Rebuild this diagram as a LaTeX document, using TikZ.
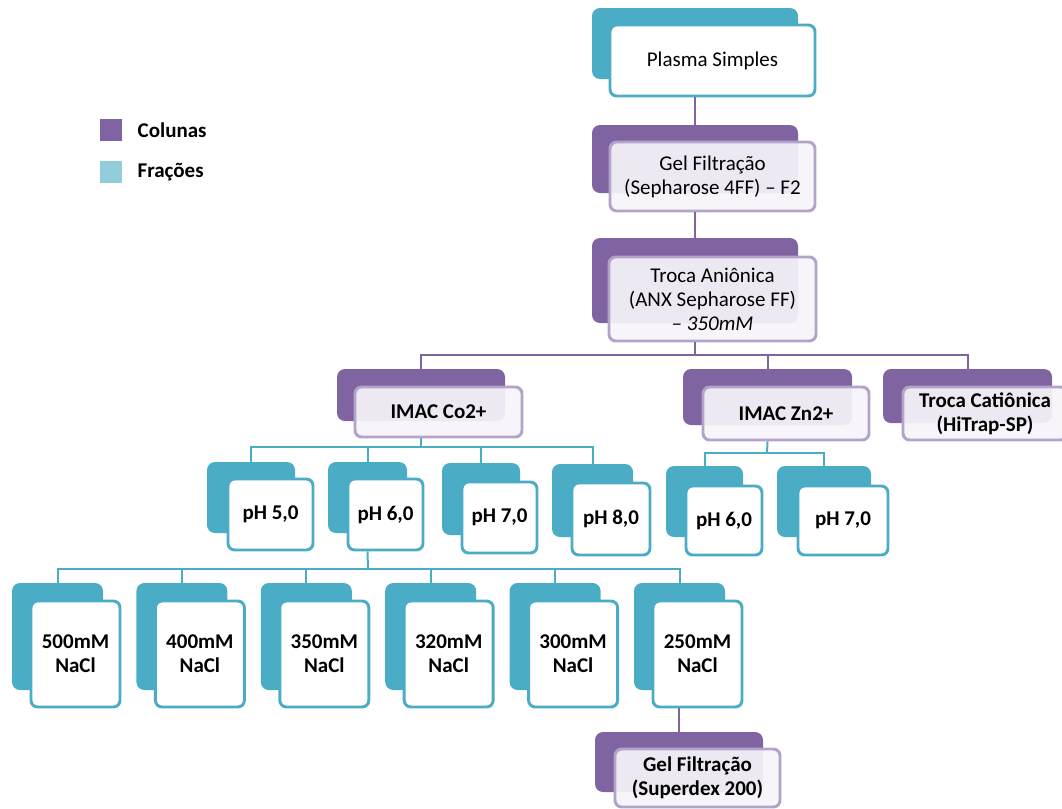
\documentclass[tikz,border=0pt]{standalone}
\usepackage{fontspec}
\setmainfont{Carlito}

\definecolor{roxo}{HTML}{8064A2}
\definecolor{turq}{HTML}{4BACC6}
\definecolor{celeste}{HTML}{92CDDC}
\definecolor{lilas}{HTML}{B3A3CB}
\definecolor{lilasclaro}{HTML}{F6F4F9}

\tikzset{
  txt/.style={font=\fontsize{15.75}{18}\selectfont},
  negrito/.style={font=\fontsize{15.75}{18}\selectfont\bfseries},
  tam/.style 2 args={minimum width={#1*0.75pt}, minimum height={#2*0.75pt}},
  colback/.style={fill=roxo, rounded corners=6pt, inner sep=0pt},
  fracback/.style={fill=turq, rounded corners=6pt, inner sep=0pt},
  colfront/.style={draw=lilas, line width=2.2pt, fill=lilasclaro, fill opacity=0.93,
    text opacity=1, rounded corners=5pt, inner sep=0pt, align=center},
  fracfront/.style={draw=turq, line width=2.2pt, fill=white, rounded corners=5pt,
    inner sep=0pt, align=center},
  pline/.style={draw=roxo, line width=1.5pt},
  tline/.style={draw=turq, line width=1.5pt},
}

\begin{document}
\begin{tikzpicture}[x=0.75pt,y=-0.75pt]
\useasboundingbox (0,0) rectangle (1062,808);
\clip (0,0) rectangle (1062,808);

% legend
\node[fill=roxo, inner sep=0pt, tam={22}{22}] (leg-col) at (111,130) {};
\node[negrito, anchor=west] (leg-col-txt) at (133,130) {Colunas};
\node[fill=celeste, inner sep=0pt, tam={22}{22}] (leg-frac) at (111,172) {};
\node[negrito, anchor=west] (leg-frac-txt) at (133,172) {Frações};

% top chain
\node[fracback, tam={206}{71}] (plasma-b) at (695,43.5) {};
\node[fracfront, txt, tam={205}{71}] (plasma) at (712.5,60.5) {Plasma Simples};

\node[colback, tam={206}{68}] (gel-b) at (695,159) {};
\draw[pline] (gel-b.north) -- (gel-b.north |- plasma.south);
\node[colfront, txt, tam={205}{69}] (gel) at (712.5,176.5) {Gel Filtração\\(Sepharose 4FF) -- F2};

\node[colback, tam={206}{85}] (anx-b) at (695,280.5) {};
\draw[pline] (anx-b.north) -- (anx-b.north |- gel.south);
\node[colfront, txt, tam={207}{84}] (anx) at (712.5,299) {Troca Aniônica\\(ANX Sepharose FF)\\\textit{-- 350mM}};

% columns after anion exchange
\coordinate (bus-anx) at (695,355);
\node[colback, tam={168}{52}] (co-b) at (421,395) {};
\node[colback, tam={169}{56}] (zn-b) at (767.5,397) {};
\node[colback, tam={169}{54}] (cat-b) at (967.5,396) {};
\draw[pline] (anx-b.north |- anx.south) -- (bus-anx);
\draw[pline] (co-b.north) |- (bus-anx);
\draw[pline] (zn-b.north) |- (bus-anx);
\draw[pline] (cat-b.north) |- (bus-anx);
\node[colfront, negrito, tam={167}{50}] (co) at (438.5,412) {IMAC Co2+};
\node[colfront, negrito, tam={166}{53}] (zn) at (786,413.5) {IMAC Zn2+};
\node[colfront, negrito, tam={164}{53}] (cat) at (985,413.5) {Troca Catiônica\\(HiTrap-SP)};

% pH fractions, IMAC Co2+
\coordinate (bus-co) at (421,447);
\node[fracback, tam={88}{71}] (co5-b) at (251,497.5) {};
\node[fracback, tam={79}{71}] (co6-b) at (367.5,497.5) {};
\node[fracback, tam={78}{72}] (co7-b) at (481,499) {};
\node[fracback, tam={81}{73}] (co8-b) at (592.5,500.5) {};
\draw[tline] (co-b.north |- co.south) -- (bus-co);
\foreach \f in {co5-b,co6-b,co7-b,co8-b}
  \draw[tline] (\f.north) |- (bus-co);
\node[fracfront, negrito, tam={85}{71}] (co5) at (270.5,514.5) {pH 5,0};
\node[fracfront, negrito, tam={75}{71}] (co6) at (385.5,514.5) {pH 6,0};
\node[fracfront, negrito, tam={75}{71}] (co7) at (499.5,517.5) {pH 7,0};
\node[fracfront, negrito, tam={78}{72}] (co8) at (611,519) {pH 8,0};

% pH fractions, IMAC Zn2+
\coordinate (bus-zn) at (767,453);
\node[fracback, tam={77}{71}] (zn6-b) at (704.5,501.5) {};
\node[fracback, tam={94}{71}] (zn7-b) at (824,501.5) {};
\draw[tline] (zn-b.north |- zn.south) -- (bus-zn);
\draw[tline] (zn6-b.north) |- (bus-zn);
\draw[tline] (zn7-b.north) |- (bus-zn);
\node[fracfront, negrito, tam={76}{69}] (zn6) at (724,520.5) {pH 6,0};
\node[fracfront, negrito, tam={90}{69}] (zn7) at (843,520.5) {pH 7,0};

% NaCl fractions from pH 6,0
\coordinate (bus-nacl) at (368,569);
\draw[tline] (co6-b.north |- co6.south) -- (bus-nacl);
\foreach \i/\c in {0/500,1/400,2/350,3/320,4/300,5/250}{
  \node[fracback, tam={91}{107}] (n\c-b) at ({57.5+124.4*\i},636.5) {};
  \draw[tline] (n\c-b.north) |- (bus-nacl);
  \node[fracfront, negrito, tam={89}{106}] (n\c) at ({75.5+124.4*\i},654) {\c mM\\NaCl};
}

% final gel filtration
\node[colback, tam={168}{60}] (sdx-b) at (679,762) {};
\draw[pline] (sdx-b.north) -- (sdx-b.north |- n250.south);
\node[colfront, negrito, tam={165}{58}] (sdx) at (697.5,778) {Gel Filtração\\(Superdex 200)};
\end{tikzpicture}
\end{document}
